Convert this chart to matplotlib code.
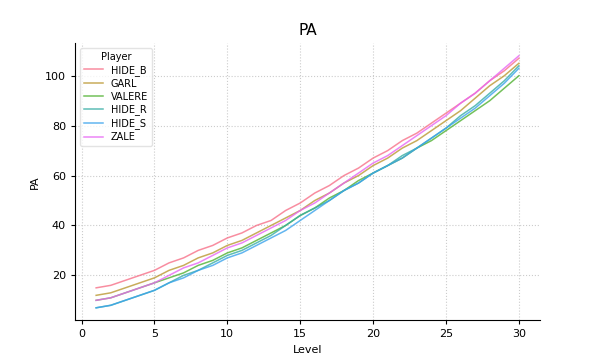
import matplotlib
matplotlib.use("Agg")
import matplotlib.pyplot as plt
import seaborn as sns

levels = list(range(1, 31))

players = ["HIDE_B", "GARL", "VALERE", "HIDE_R", "HIDE_S", "ZALE"]

hide_b = [15, 16, 18, 20, 22, 25, 27, 30, 32, 35, 37, 40, 42, 46, 49,
          53, 56, 60, 63, 67, 70, 74, 77, 81, 85, 89, 93, 98, 102, 107]
garl = [12, 13, 15, 17, 19, 22, 24, 27, 29, 32, 34, 37, 40, 43, 46,
        50, 53, 57, 60, 64, 67, 71, 74, 78, 82, 86, 91, 96, 100, 105]
valere = [10, 11, 13, 15, 17, 19, 21, 24, 26, 29, 31, 34, 37, 40, 44,
          47, 51, 54, 58, 61, 64, 67, 71, 74, 78, 82, 86, 90, 95, 100]
hide_r = [7, 8, 10, 12, 14, 17, 20, 22, 25, 28, 30, 33, 36, 40, 44,
          47, 50, 54, 57, 61, 64, 68, 71, 75, 79, 84, 88, 93, 98, 104]
hide_s = [7, 8, 10, 12, 14, 17, 19, 22, 24, 27, 29, 32, 35, 38, 42,
          46, 50, 54, 57, 61, 64, 67, 71, 75, 79, 83, 87, 92, 97, 103]
zale = [10, 11, 13, 15, 17, 20, 23, 25, 28, 31, 33, 36, 39, 42, 46,
        49, 53, 57, 61, 65, 68, 72, 76, 80, 84, 89, 93, 98, 103, 108]

series = [hide_b, garl, valere, hide_r, hide_s, zale]
colors = sns.color_palette("husl", len(players))

fig, ax = plt.subplots(figsize=(6, 3.6), dpi=100)

for name, vals, c in zip(players, series, colors):
	ax.plot(levels, vals, color=c, linewidth=1.1, alpha=0.8, label=name)

ax.set_title("PA", fontsize=11)
ax.set_xlabel("Level", fontsize=8)
ax.set_ylabel("PA", fontsize=8)
ax.tick_params(labelsize=8, length=3)
ax.grid(True, linestyle=":", color="#cccccc", linewidth=0.8)
ax.spines["top"].set_visible(False)
ax.spines["right"].set_visible(False)

leg = ax.legend(title="Player", loc="upper left", fontsize=7, title_fontsize=7,
                labelspacing=0.3, borderpad=0.4)
leg.get_frame().set_edgecolor("#dddddd")

fig.savefig("out.png", dpi=100)
